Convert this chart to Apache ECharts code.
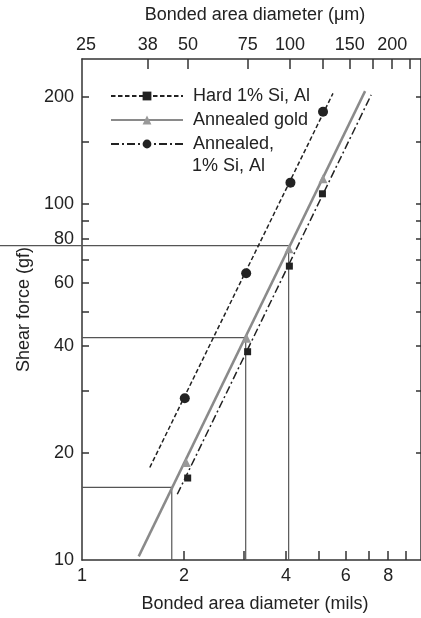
<!DOCTYPE html>
<html>
<head>
<meta charset="utf-8">
<script src="https://cdn.jsdelivr.net/npm/echarts@6/dist/echarts.min.js"></script>
<style>html,body{margin:0;padding:0;background:#fff}#c{width:421px;height:618px}</style>
</head>
<body>
<div id="c"></div>
<script>
// ---- data ----
const seriesNames = ['Hard 1% Si, Al', 'Annealed gold', 'Annealed, 1% Si, Al'];
// measured points (x in mils, y in gf)
const hardX = [2.05, 3.08, 4.09, 5.12];
const hardY = [17, 38.5, 67, 107];
const goldX = [2.03, 3.06, 4.08, 5.14];
const goldY = [18.8, 42, 75, 118];
const annX = [2.01, 3.05, 4.12, 5.14];
const annY = [28.5, 64, 115, 182];
// fitted line end points
const hardFitX = [1.91, 7.13];
const hardFitY = [15.3, 203];
const goldFitX = [1.47, 6.84];
const goldFitY = [10.24, 208];
const annFitX = [1.585, 5.5];
const annFitY = [18.2, 205];
// guide lines (diameter in mils, force in gf)
const guideX = [1.84, 3.04, 4.07];
const guideY = [16.0, 42.2, 76.5];
// the top guide line runs on past the left axis, to this diameter
const guideOverrunX = 0.55;
// ticks and labels
const milsTicks = [2, 3, 4, 5, 6, 7, 8, 9];
const milsLabels = [1, 2, 4, 6, 8];
const umTicks = [38, 50, 75, 100, 125, 150, 175, 200, 225];
const umLabels = [25, 38, 50, 75, 100, 150, 200];
const gfTicks = [20, 30, 40, 50, 60, 70, 80, 90, 100, 150, 200];
const gfLabels = [10, 20, 40, 60, 80, 100, 200];

const zip = (xs, ys) => xs.map((x, i) => [x, ys[i]]);
const FONT = 'Liberation Sans, Arial, sans-serif';
const TXT = '#222';
const AX = '#333';
const GUIDE = '#555';

const chart = echarts.init(document.getElementById('c'), null, {renderer: 'canvas'});

const guideSeries = guideX.map((gx, i) => ({
  type: 'line', name: 'guide' + i, silent: true,
  symbol: 'none', animation: false, z: 1,
  lineStyle: {color: GUIDE, width: 1.2},
  data: [[1, guideY[i]], [gx, guideY[i]], [gx, 10]]
}));

const option = {
  animation: false,
  backgroundColor: '#fff',
  textStyle: {fontFamily: FONT, color: TXT},
  grid: {left: 82, top: 59, width: 340, bottom: 55, containLabel: false},
  legend: {
    orient: 'vertical', left: 105, top: 81,
    itemWidth: 72, itemHeight: 11, itemGap: 4,
    data: seriesNames,
    selectedMode: false,
    formatter: n => n === 'Annealed, 1% Si, Al' ? 'Annealed,' : n,
    textStyle: {fontSize: 18, color: TXT, fontFamily: FONT, lineHeight: 20, padding: [0, 0, 0, 5]}
  },
  xAxis: [{
    type: 'log', logBase: 10, min: 1, max: 10, position: 'bottom',
    name: 'Bonded area diameter (mils)', nameLocation: 'middle', nameGap: 35,
    nameTextStyle: {fontSize: 18, color: TXT, fontFamily: FONT, padding: [0, 0, 0, 7]},
    axisLine: {show: true, lineStyle: {color: AX, width: 1.5}},
    axisTick: {show: true, inside: true, length: 9, lineStyle: {color: AX, width: 1.5}, customValues: milsTicks},
    axisLabel: {fontSize: 18, color: TXT, fontFamily: FONT, margin: 7, customValues: milsLabels,
      formatter: v => String(Math.round(v))},
    splitLine: {show: false}, minorTick: {show: false}
  }, {
    type: 'log', logBase: 10, min: 24.33, max: 243.3, position: 'top',
    name: 'Bonded area diameter (μm)', nameLocation: 'middle', nameGap: 35,
    nameTextStyle: {fontSize: 18, color: TXT, fontFamily: FONT, padding: [0, 0, 0, 7]},
    axisLine: {show: true, lineStyle: {color: AX, width: 1.5}},
    axisTick: {show: true, inside: true, length: 10, lineStyle: {color: AX, width: 1.5}, customValues: umTicks},
    axisLabel: {fontSize: 18, color: TXT, fontFamily: FONT, margin: 5, customValues: umLabels,
      formatter: v => String(Math.round(v))},
    splitLine: {show: false}, minorTick: {show: false}
  }],
  yAxis: [{
    type: 'log', logBase: 10, min: 10, max: 256, position: 'left',
    name: 'Shear force (gf)', nameLocation: 'middle', nameGap: 48,
    nameTextStyle: {fontSize: 18, color: TXT, fontFamily: FONT},
    axisLine: {show: true, lineStyle: {color: AX, width: 1.5}},
    axisTick: {show: true, inside: true, length: 7, lineStyle: {color: AX, width: 1.5}, customValues: gfTicks},
    axisLabel: {fontSize: 18, color: TXT, fontFamily: FONT, margin: 8, customValues: gfLabels,
      formatter: v => String(Math.round(v))},
    splitLine: {show: false}, minorTick: {show: false}
  }, {
    type: 'log', logBase: 10, min: 10, max: 256, position: 'right',
    axisLine: {show: true, lineStyle: {color: AX, width: 1.5}},
    axisTick: {show: true, inside: true, length: 5, lineStyle: {color: AX, width: 1.5}, customValues: gfTicks},
    axisLabel: {show: false},
    splitLine: {show: false}, minorTick: {show: false}
  }],
  series: [
    // legend samples (styles as printed in the key)
    {type: 'line', name: seriesNames[0], data: [], symbol: 'rect', symbolSize: 8,
      itemStyle: {color: '#222'}, lineStyle: {color: '#222', width: 1.5, type: [4.5, 2.5]}},
    {type: 'line', name: seriesNames[1], data: [], symbol: 'triangle', symbolSize: 9,
      itemStyle: {color: '#999'}, lineStyle: {color: '#8a8a8a', width: 2.5}},
    {type: 'line', name: seriesNames[2], data: [], symbol: 'circle', symbolSize: 10,
      itemStyle: {color: '#222'}, lineStyle: {color: '#222', width: 1.5, type: [8, 3, 2, 3]}},
    ...guideSeries,
    // fitted lines as drawn in the plot
    {type: 'line', name: seriesNames[0], data: zip(hardFitX, hardFitY), symbol: 'none', z: 2,
      lineStyle: {color: '#222', width: 1.5, type: [8, 3, 2, 3]}},
    {type: 'line', name: seriesNames[1], data: zip(goldFitX, goldFitY), symbol: 'none', z: 2,
      lineStyle: {color: '#8a8a8a', width: 2.5}},
    {type: 'line', name: seriesNames[2], data: zip(annFitX, annFitY), symbol: 'none', z: 2,
      lineStyle: {color: '#222', width: 1.5, type: [4.5, 2.5]}},
    // measured markers
    {type: 'scatter', name: seriesNames[0], data: zip(hardX, hardY), symbol: 'rect', symbolSize: 7, z: 3,
      itemStyle: {color: '#222', opacity: 1}},
    {type: 'scatter', name: seriesNames[1], data: zip(goldX, goldY), symbol: 'triangle', symbolSize: 9, z: 3,
      itemStyle: {color: '#999', opacity: 1}},
    {type: 'scatter', name: seriesNames[2], data: zip(annX, annY), symbol: 'circle', symbolSize: 10, z: 3,
      itemStyle: {color: '#222', opacity: 1}}
  ]
};
chart.setOption(option);

// second line of the third legend entry, placed from the legend's own layout
// and the overrun of the top guide line, placed through the axes' scales
const finder = {xAxisIndex: 0, yAxisIndex: 0};
const a = chart.convertToPixel(finder, [guideOverrunX, guideY[2]]);
const b = chart.convertToPixel(finder, [1, guideY[2]]);
chart.setOption({
  graphic: [
    {type: 'text', left: 192, top: 157, silent: true,
      style: {text: '1% Si, Al', font: '18px ' + FONT, fill: TXT}},
    {type: 'line', silent: true, z: 1,
      shape: {x1: a[0], y1: a[1], x2: b[0], y2: b[1]},
      style: {stroke: GUIDE, lineWidth: 1.2}}
  ]
});
</script>
</body>
</html>
